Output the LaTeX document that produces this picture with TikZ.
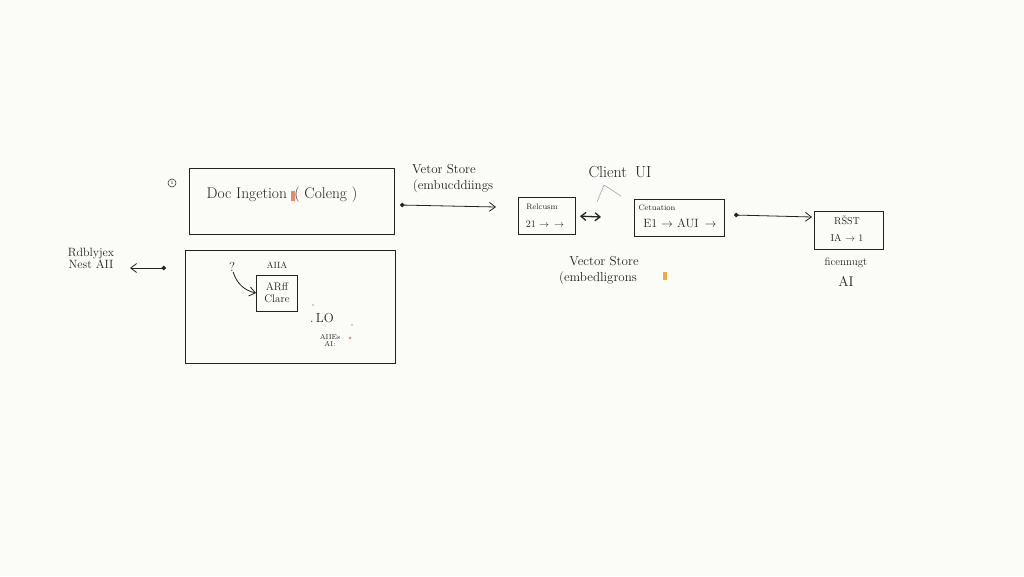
\documentclass[tikz,border=0pt]{standalone}
\usepackage{amsmath}
\usepackage{amssymb}
\usetikzlibrary{arrows.meta}

\definecolor{paper}{HTML}{FBFBF8}
\definecolor{ink}{HTML}{222222}
\definecolor{pale}{HTML}{9AA6B8}
\definecolor{salmon}{HTML}{E08A70}
\definecolor{ochre}{HTML}{E8B040}

\begin{document}
\begin{tikzpicture}[x=1pt, y=-1pt, line width=0.8pt, draw=ink, text=ink,
  box node/.style={rectangle, draw=ink, line width=0.9pt, inner sep=0pt},
  note node/.style={align=center, inner sep=0pt, font=\fontsize{#1}{#1}\selectfont},
  note node/.default=10,
  tip/.style={-{Straight Barb[length=6pt,width=9pt]}},
  dottip/.style={{Circle[length=4.5pt]}-{Straight Barb[length=6pt,width=9pt]}}]
  \fill[paper] (0,0) rectangle (1024,576);

  % ingestion side
  \node[box node, minimum width=205pt, minimum height=66pt] (ingest) at (292,201) {};
  \node[note node=15.5] (ingestlbl) at (282,195) {Doc Ingetion \,( Coleng )};
  \node[draw=ink, circle, inner sep=0pt, minimum size=8pt, line width=0.5pt, font=\fontsize{5}{5}\selectfont] (num) at (172,183) {1};
  \fill[salmon] (291,191) rectangle (295,201);

  \node[box node, minimum width=210pt, minimum height=113pt] (api) at (290,307) {};
  \node[note node=9] (aiia) at (277,265) {AIIA};
  \node[box node, minimum width=41pt, minimum height=36pt, note node=11] (arff) at (277,293) {ARff\\[1pt]Clare};
  \node[note node=13] (qmark) at (232,267) {?};
  \node[note node=13] (lo) at (322,318) {.\,LO};
  \node[note node=7] (aies) at (330,340) {AIIEs\\AI:};
  \fill[pale] (313,305) circle (0.9pt);
  \fill[pale] (352,325) circle (0.9pt);
  \fill[salmon] (350,338) circle (1.4pt);

  \node[note node=12] (nest) at (91,258) {Rdblyjex\\Nest AII};
  \coordinate (nestdot) at (166,268);
  \coordinate (nestend) at (130,268);

  % store and client side
  \coordinate (ingdot) at (400,205);
  \coordinate (ingend) at (496,207);
  \node[note node=13] (vstore) at (444,169) {Vetor Store};
  \node[note node=13] (vemb) at (453,186) {(embucddiings};

  \node[note node=16] (client) at (620,172) {Client\enspace UI};
  \coordinate (capl) at (597,202);
  \coordinate (capt) at (604,185);
  \coordinate (capr) at (621,196);

  \node[box node, minimum width=57pt, minimum height=37pt] (ret) at (547,216) {};
  \node[note node=8] (retlbl) at (542,207) {Relcusm};
  \node[note node=10] (retflow) at (545,224) {21 $\rightarrow$ \,$\rightarrow$};
  \coordinate (dblend) at (601,217);

  \node[box node, minimum width=90pt, minimum height=37pt] (gen) at (679,218) {};
  \node[note node=8] (genlbl) at (657,208) {Cetuation};
  \node[note node=12] (genflow) at (680,223) {E1 $\rightarrow$ AUI \,$\rightarrow$};
  \coordinate (gendot) at (734,215);
  \coordinate (restend) at (812,217);

  \node[box node, minimum width=69pt, minimum height=38pt] (rest) at (849,230) {};
  \node[note node=10] (restlbl) at (847,220) {RŠST};
  \node[note node=10] (restflow) at (847,238) {IA $\rightarrow$ 1};
  \node[note node=11] (restsub) at (846,263) {ficennugt};
  \node[note node=14] (restai) at (846,281) {AI};

  \node[note node=13] (vstore2) at (604,261) {Vector Store};
  \node[note node=13] (vemb2) at (598,278) {(embedligrons};
  \fill[ochre] (663,272) rectangle (667,280);

\draw[pale, line width=0.6pt] (capl) -- (capt) -- (capr);
\path (qmark) edge[tip, bend right=30] (arff.west)
(nestdot) edge[dottip] (nestend)
(ingdot) edge[dottip] (ingend)
(gendot) edge[dottip] (restend)
(ret.east) edge[{Straight Barb[length=5pt,width=8pt]}-{Straight Barb[length=5pt,width=8pt]}, line width=1.3pt, shorten <=4pt] (dblend);
\end{tikzpicture}
\end{document}
